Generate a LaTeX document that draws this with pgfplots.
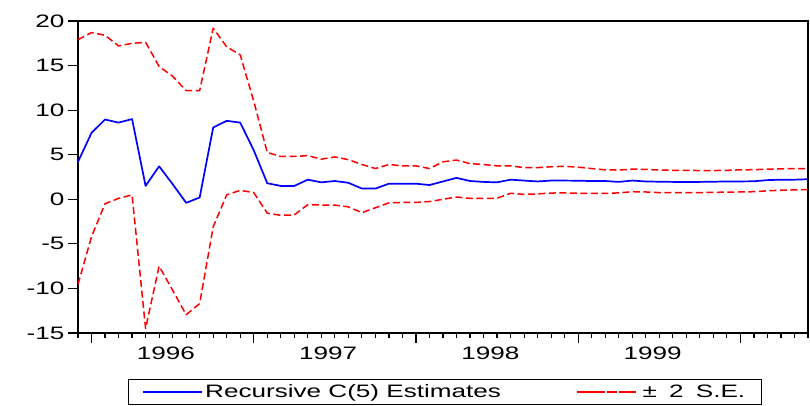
\documentclass[border=0pt]{standalone}
\usepackage{fontspec}
\setmainfont{Liberation Sans}[FakeStretch=1.45]
\usepackage{pgfplots}
\pgfplotsset{compat=1.18}
\usepackage{pgfplotstable}
\pgfplotstableread{
i blue upper lower
0 4.2 17.9 -9.55
1 7.45 18.7 -4.2
2 8.95 18.4 -0.5
3 8.6 17.2 0.1
4 9.0 17.5 0.5
5 1.5 17.6 -14.5
6 3.7 14.9 -7.5
7 1.7 13.8 -10.2
8 -0.4 12.2 -12.95
9 0.2 12.2 -11.7
10 8.05 19.2 -3.1
11 8.8 17.1 0.5
12 8.6 16.2 1.0
13 5.5 11.0 0.75
14 1.8 5.25 -1.55
15 1.5 4.8 -1.8
16 1.5 4.8 -1.75
17 2.2 4.9 -0.6
18 1.9 4.5 -0.65
19 2.05 4.75 -0.65
20 1.85 4.45 -0.85
21 1.2 3.9 -1.5
22 1.2 3.45 -0.95
23 1.75 3.9 -0.4
24 1.75 3.75 -0.35
25 1.75 3.75 -0.35
26 1.6 3.45 -0.25
27 2.0 4.2 0.0
28 2.4 4.4 0.25
29 2.05 4.0 0.1
30 1.95 3.9 0.1
31 1.9 3.75 0.12
32 2.2 3.75 0.67
33 2.1 3.55 0.55
34 2.0 3.55 0.6
35 2.1 3.65 0.7
36 2.1 3.7 0.72
37 2.08 3.6 0.68
38 2.05 3.45 0.65
39 2.05 3.3 0.65
40 1.95 3.28 0.72
41 2.1 3.38 0.85
42 2.0 3.35 0.82
43 1.97 3.28 0.75
44 1.95 3.25 0.75
45 1.95 3.25 0.75
46 1.95 3.22 0.75
47 1.97 3.22 0.78
48 2.0 3.25 0.8
49 2.0 3.3 0.82
50 2.02 3.32 0.85
51 2.15 3.38 0.95
52 2.2 3.42 1.02
53 2.2 3.45 1.05
54 2.25 3.45 1.1
}\data
\begin{document}
\begin{tikzpicture}
\begin{axis}[
  at={(78pt,73pt)}, anchor=south west,
  width=730pt, height=312pt, scale only axis,
  xmin=0, xmax=54, ymin=-15, ymax=20,
  axis line style={line width=2pt},
  ytick={-15,-10,-5,0,5,10,15,20},
  yticklabels={-15,-10,-5,0,5,10,15,20},
  xtick={1,13,25,37,49}, xticklabels={},
  minor xtick={0,...,54},
  extra x ticks={6.5,18.5,30.5,42.5},
  extra x tick labels={1996,1997,1998,1999},
  extra x tick style={major tick length=0pt, xticklabel style={yshift=-10pt}},
  tick align=outside, xtick pos=bottom, ytick pos=left,
  major tick length=10pt, minor tick length=5pt,
  every tick/.style={black, line width=1.2pt},
  ticklabel style={font=\fontsize{18}{20}\selectfont},
  legend columns=2,
  legend cell align=left,
  legend style={at={(0.0685,-0.1474)}, anchor=north west, draw=black, line width=1pt,
    font=\fontsize{18}{20}\selectfont, inner xsep=14pt, inner ysep=3pt,
    /tikz/every even column/.append style={column sep=73pt}},
]
\addplot[blue, line width=1.7pt, line join=round,
  legend image code/.code={\draw[blue, line width=1pt] (0pt,0pt) -- (45pt,0pt); \path (0pt,0pt) -- (59pt,0pt);}]
  table[x=i, y=blue] {\data};
\addplot[red, line width=1.5pt, dash pattern=on 7pt off 3.5pt, line join=round,
  legend image code/.code={\draw[red, line width=1.5pt, dash pattern=on 10pt off 5pt] (0pt,0pt) -- (55pt,0pt); \path (0pt,0pt) -- (63pt,0pt);}]
  table[x=i, y=upper] {\data};
\addplot[red, line width=1.5pt, dash pattern=on 7pt off 3.5pt, line join=round, forget plot]
  table[x=i, y=lower] {\data};
\legend{Recursive C(5) Estimates, ±\hspace{5pt} 2\hspace{5pt} S.E.\hspace{2pt}}
\end{axis}
\pgfresetboundingbox
\path[use as bounding box] (0pt,0pt) rectangle (810pt,406pt);
\end{tikzpicture}
\end{document}
